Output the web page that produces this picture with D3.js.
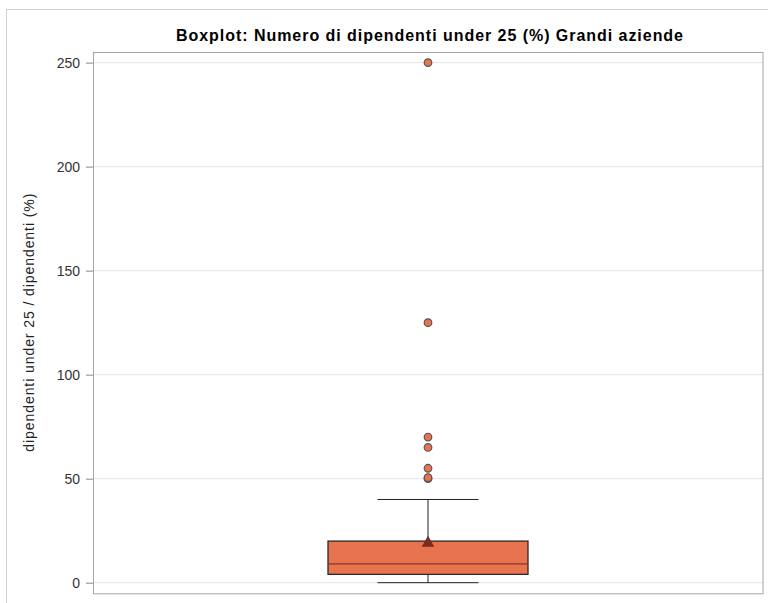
<!DOCTYPE html>
<html><head><meta charset="utf-8">
<script src="https://cdn.jsdelivr.net/npm/d3@7"></script>
<style>body{margin:0;background:#fff;}text{font-family:"Liberation Sans",Arial,sans-serif;}</style>
</head><body><div id="chart"></div>
<script>
const title = "Boxplot: Numero di dipendenti under 25 (%) Grandi aziende";
const yLabel = "dipendenti under 25 / dipendenti (%)";
const yTicks = [0, 50, 100, 150, 200, 250];
const boxStats = {min: 0, q1: 4, median: 9, q3: 20, whiskerHigh: 40, mean: 19};
const outliers = [50, 50.5, 55, 65, 70, 125, 250];

const W = 768, H = 603;
const svg = d3.select("#chart").append("svg").attr("width", W).attr("height", H);
const pl = 93, pr = 763, pt = 52, pb = 593.3;

// outer frame
svg.append("rect").attr("x", 6.5).attr("y", 9.5).attr("width", W).attr("height", H)
  .attr("fill", "none").attr("stroke", "#d0d0d0");

const y = d3.scaleLinear().domain([-5.1, 255.1]).range([pb, pt]);
const x = d3.scaleBand().domain(["g"]).range([pl, pr]);
const cx = x("g") + x.bandwidth() / 2;

// gridlines
svg.append("g").selectAll("line").data(yTicks).join("line")
  .attr("x1", pl).attr("x2", pr).attr("y1", d => y(d)).attr("y2", d => y(d))
  .attr("stroke", "#e4e4e4").attr("stroke-width", 1);

// axis
const ax = svg.append("g").attr("transform", `translate(${pl},0)`)
  .call(d3.axisLeft(y).tickValues(yTicks).tickSize(7).tickPadding(6));
ax.select(".domain").remove();
ax.selectAll("line").attr("stroke", "#888");
ax.selectAll("text").attr("fill", "#333").style("font-size", "14px").attr("dy", "0.36em");

// plot frame
svg.append("rect").attr("x", pl + 0.5).attr("y", pt + 0.5).attr("width", pr - pl - 0.5).attr("height", pb - pt)
  .attr("fill", "none").attr("stroke", "#a5a5a5");

// box
const bw = 200, cap = 101;
const g = svg.append("g");
g.append("line").attr("x1", cx).attr("x2", cx).attr("y1", y(boxStats.q3)).attr("y2", y(boxStats.whiskerHigh)).attr("stroke", "#222");
g.append("line").attr("x1", cx).attr("x2", cx).attr("y1", y(boxStats.q1)).attr("y2", y(boxStats.min)).attr("stroke", "#222");
g.append("line").attr("x1", cx - cap/2).attr("x2", cx + cap/2).attr("y1", y(boxStats.whiskerHigh)).attr("y2", y(boxStats.whiskerHigh)).attr("stroke", "#222");
g.append("line").attr("x1", cx - cap/2).attr("x2", cx + cap/2).attr("y1", y(boxStats.min)).attr("y2", y(boxStats.min)).attr("stroke", "#222");
g.append("rect").attr("x", cx - bw/2).attr("y", y(boxStats.q3)).attr("width", bw).attr("height", y(boxStats.q1) - y(boxStats.q3))
  .attr("fill", "#e8734f").attr("stroke", "#2a2a2a").attr("stroke-width", 1.3);
g.append("line").attr("x1", cx - bw/2).attr("x2", cx + bw/2).attr("y1", y(boxStats.median)).attr("y2", y(boxStats.median))
  .attr("stroke", "#8a3526").attr("stroke-width", 1.2);

// mean triangle
g.append("path").attr("d", d3.symbol().type(d3.symbolTriangle).size(70)())
  .attr("transform", `translate(${cx},${y(boxStats.mean)})`).attr("fill", "#7a2b22");

// outliers
g.selectAll("circle").data(outliers).join("circle")
  .attr("cx", cx).attr("cy", d => y(d)).attr("r", 3.8)
  .attr("fill", "#e8734f").attr("stroke", "#555").attr("stroke-width", 1.2);

// title
svg.append("text").attr("x", 176).attr("y", 40.5)
  .attr("textLength", 507).attr("lengthAdjust", "spacing")
  .style("font-size", "16px").style("font-weight", "bold").attr("fill", "#000").text(title);

// y label
svg.append("text").attr("transform", `translate(34,${(pt + pb) / 2}) rotate(-90)`).attr("text-anchor", "middle")
  .attr("textLength", 258).attr("lengthAdjust", "spacing")
  .style("font-size", "14px").attr("fill", "#222").text(yLabel);
</script></body></html>
